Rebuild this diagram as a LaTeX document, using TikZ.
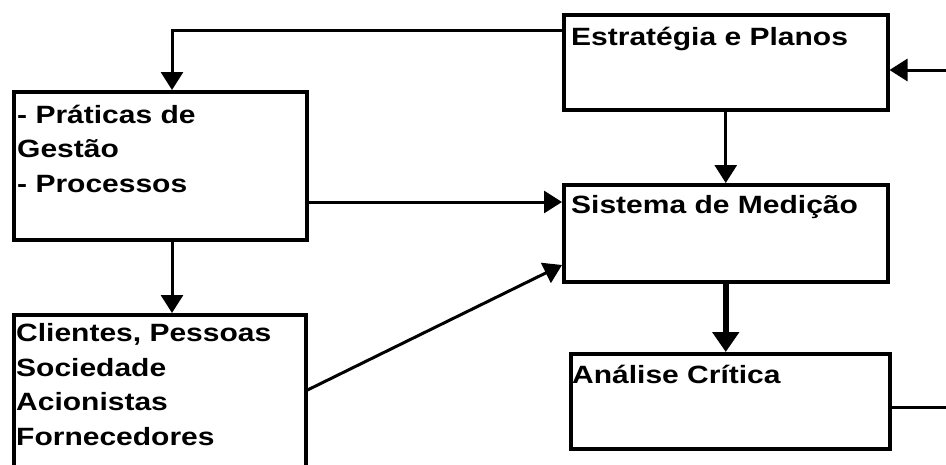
\documentclass[tikz,border=0pt]{standalone}
\usepackage{fontspec}
\setmainfont{Liberation Sans}[FakeStretch=1.2]
\usetikzlibrary{arrows.meta,calc}
\begin{document}
\begin{tikzpicture}[x=1pt,y=-1pt,
  box/.style={draw,line width=3.5pt,inner sep=0pt,anchor=north west},
  lbl/.style={inner sep=0pt,anchor=base west,align=left,
    font=\fontsize{25}{34.5}\selectfont\bfseries},
  conn/.style={line width=3pt,-{Triangle[width=22pt,length=18pt]}},
  heavy/.style={line width=5.5pt,-{Triangle[width=26pt,length=20pt]}}]
\useasboundingbox (0,0) rectangle (946,464);
\fill[white] (0,0) rectangle (946,464);

% boxes
\node[box,minimum width=324pt,minimum height=95pt] (est) at (562,13) {};
\node[box,minimum width=293pt,minimum height=148pt] (prat) at (12,90) {};
\node[box,minimum width=324pt,minimum height=97pt] (sis) at (562,183) {};
\node[box,minimum width=292pt,minimum height=170pt] (cli) at (12,313) {};
\node[box,minimum width=319pt,minimum height=95pt] (ana) at (569,352) {};

% texts (anchored at the baseline of the last line)
\node[lbl] (estT) at ($(est.north west)+(9,32)$) {Estratégia e Planos};
\node[lbl] (pratT) at ($(prat.north west)+(5,102)$) {- Práticas de\\Gestão\\- Processos};
\node[lbl] (sisT) at ($(sis.north west)+(9,30)$) {Sistema de Medição};
\node[lbl] (cliT) at ($(cli.north west)+(4,132)$) {Clientes, Pessoas\\Sociedade\\Acionistas\\Fornecedores};
\node[lbl] (anaT) at ($(ana.north west)+(3,31)$) {Análise Crítica};

% connection points
\coordinate (estL) at ($(est.north west)+(0,17)$);
\coordinate (pratTop) at ($(prat.north west)+(160,0)$);
\coordinate (pratBot) at ($(prat.south west)+(160,0)$);
\coordinate (pratR) at ($(prat.north east)+(0,112)$);
\coordinate (cliR) at ($(cli.north east)+(0,77)$);
\coordinate (sisL) at ($(sis.north west)+(0,82)$);
\coordinate (estR) at ($(est.north east)+(0,57)$);
\coordinate (inR) at (946,70);
\coordinate (anaR) at ($(ana.north west)+(319,55)$);
\coordinate (outR) at (946,407);

% connectors
\draw[conn] (estL) -| (pratTop);
\draw[conn] (pratBot) -- (pratBot |- cli.north);
\draw[conn] (pratR) -- (pratR -| sis.west);
\draw[conn] (cliR) -- (sisL);
\draw[conn] (est.south) -- (sis.north);
\draw[heavy] (sis.south) -- (sis.south |- ana.north);
\draw[conn] (inR) -- (estR);
\draw[line width=3pt] (anaR) -- (outR);
\end{tikzpicture}
\end{document}
